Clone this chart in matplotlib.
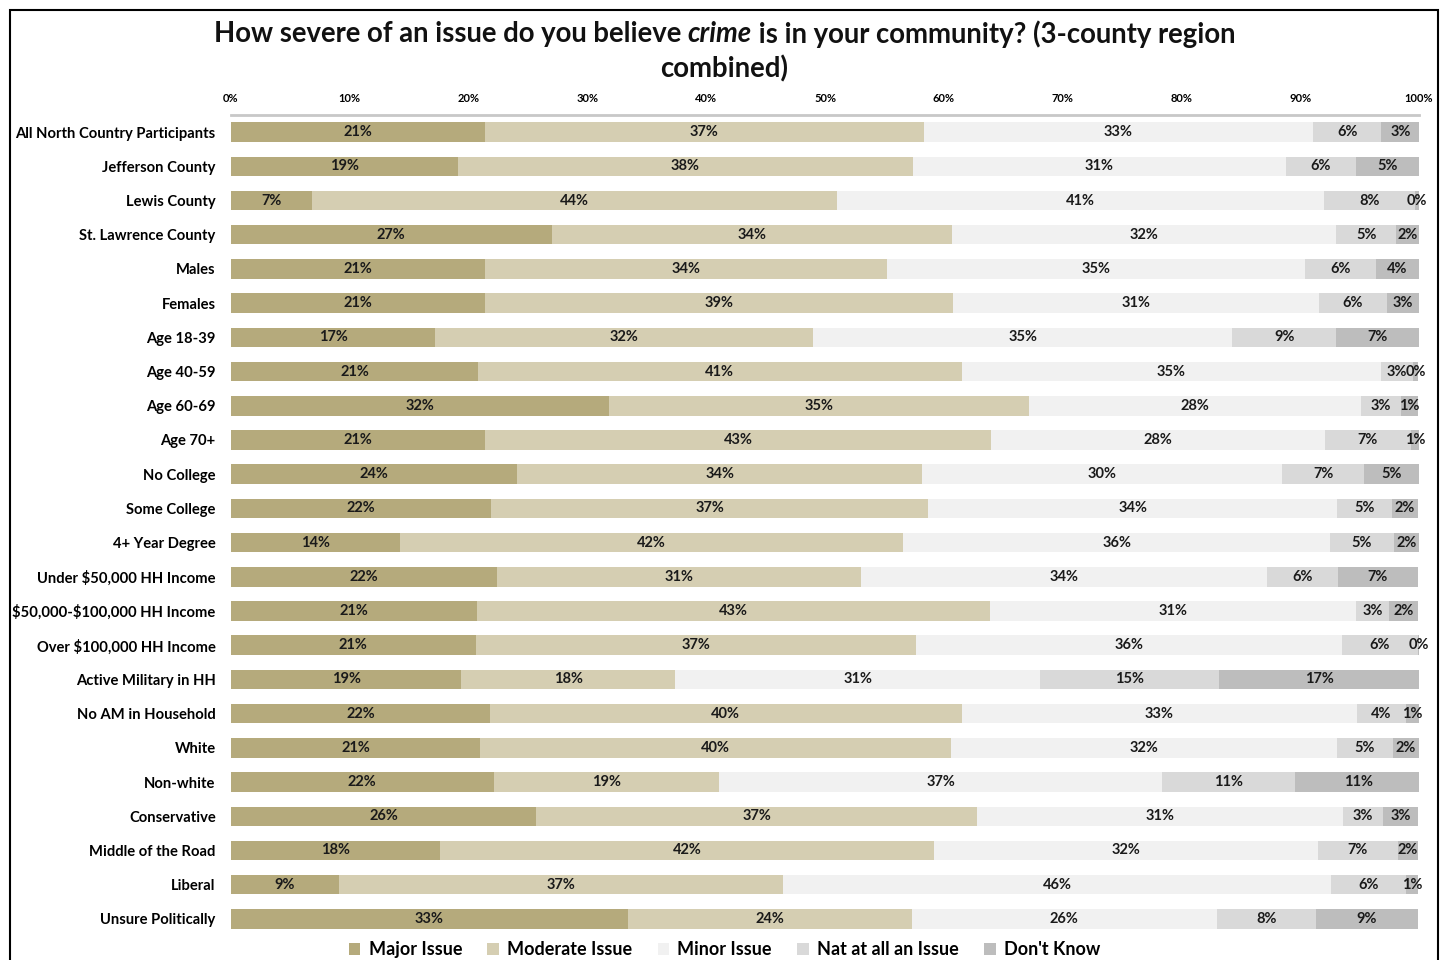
import numpy as np
import matplotlib.pyplot as plt
from matplotlib.patches import Rectangle

plt.rcParams['font.family'] = ['Lato', 'DejaVu Sans']

# groups, top to bottom
groups = ["All North Country Participants", "Jefferson County", "Lewis County",
          "St. Lawrence County", "Males", "Females", "Age 18-39", "Age 40-59",
          "Age 60-69", "Age 70+", "No College", "Some College", "4+ Year Degree",
          "Under \\$50,000 HH Income", "\\$50,000-\\$100,000 HH Income",
          "Over \\$100,000 HH Income", "Active Military in HH", "No AM in Household",
          "White", "Non-white", "Conservative", "Middle of the Road", "Liberal",
          "Unsure Politically"]

major = [21.4, 19.1, 6.8, 27.0, 21.4, 21.4, 17.2, 20.8, 31.8, 21.4, 24.1, 21.9,
         14.2, 22.4, 20.7, 20.6, 19.4, 21.8, 21.0, 22.1, 25.7, 17.6, 9.1, 33.4]
moderate = [36.9, 38.3, 44.2, 33.7, 33.8, 39.4, 31.8, 40.7, 35.4, 42.6, 34.1, 36.8,
            42.4, 30.6, 43.2, 37.1, 18.0, 39.7, 39.6, 19.0, 37.1, 41.6, 37.4, 23.9]
minor = [32.8, 31.4, 41.0, 32.3, 35.2, 30.8, 35.3, 35.3, 27.9, 28.1, 30.3, 34.4,
         35.9, 34.2, 30.8, 35.8, 30.7, 33.3, 32.5, 37.3, 30.8, 32.3, 46.1, 25.7]
not_at_all = [5.7, 5.9, 7.7, 5.1, 6.0, 5.7, 8.7, 2.7, 3.4, 7.2, 6.9, 4.6,
              5.4, 6.0, 2.8, 6.4, 15.1, 4.1, 4.7, 11.2, 3.4, 6.7, 6.3, 8.3]
dont_know = [3.3, 5.3, 0.3, 1.9, 3.6, 2.7, 7.0, 0.4, 1.4, 0.7, 4.6, 2.2,
             2.1, 6.7, 2.4, 0.1, 16.8, 1.1, 2.2, 10.6, 2.9, 1.7, 1.0, 8.6]

series = [major, moderate, minor, not_at_all, dont_know]
names = ["Major Issue", "Moderate Issue", "Minor Issue", "Nat at all an Issue", "Don't Know"]
colors = ["#B5AA7C", "#D5CEB2", "#F1F1F1", "#D9D9D9", "#BDBDBD"]

fig = plt.figure(figsize=(14.49, 9.6), dpi=100)
ax = fig.add_axes([0.1594, 0.025, 0.8199, 0.8552])

y = np.arange(len(groups))
left = np.zeros(len(groups))
for vals, name, col in zip(series, names, colors):
    vals = np.array(vals)
    ax.barh(y, vals, left=left, height=0.57, color=col, label=name)
    for yi, l, v in zip(y, left, vals):
        ax.text(l + v / 2, yi, f"{round(v)}%", ha='center', va='center',
                fontsize=10.5, fontweight='bold', color='#1a1a1a')
    left += vals

ax.set_xlim(0, 100)
ax.set_ylim(len(groups) - 0.5, -0.5)
ax.set_xticks(np.arange(0, 101, 10))
ax.set_xticklabels([f"{t}%" for t in range(0, 101, 10)], fontsize=8, fontweight='bold')
ax.xaxis.tick_top()
ax.tick_params(axis='x', length=0, pad=8)
ax.set_yticks(y)
ax.set_yticklabels(groups, fontsize=10.6, fontweight='bold')
ax.tick_params(axis='y', length=0, pad=11)
for s in ['left', 'right', 'bottom']:
    ax.spines[s].set_visible(False)
ax.spines['top'].set_color('#C8C8C8')
ax.spines['top'].set_linewidth(2)

# title, with "crime" in italic
kw = dict(fontsize=19.8, fontweight='bold', va='center', color='#111111')
t1 = fig.text(0.0, 0.9646, "How severe of an issue do you believe ", **kw)
t2 = ax.annotate("crime", xy=(1, 0.5), xycoords=t1, ha='left', style='italic',
                 annotation_clip=False, **kw)
t3 = ax.annotate(" is in your community? (3-county region", xy=(1, 0.5), xycoords=t2,
                 ha='left', annotation_clip=False, **kw)
fig.text(0.5, 0.928, "combined)", ha='center', **kw)
r = fig.canvas.get_renderer()
w = sum(t.get_window_extent(r).width for t in (t1, t2, t3))
t1.set_x((fig.bbox.width - w) / 2 / fig.bbox.width)

fig.legend(loc='center', bbox_to_anchor=(0.5, 0.011), ncol=5, frameon=False,
           prop={'size': 13, 'weight': 'bold'}, handlelength=0.65, handleheight=0.65,
           handletextpad=0.45, columnspacing=1.4)

fig.add_artist(Rectangle((10 / 1449, -0.05), 1428 / 1449, 1.04, transform=fig.transFigure,
                         fill=False, edgecolor='black', linewidth=1.5))

fig.savefig("out.png", dpi=100)
